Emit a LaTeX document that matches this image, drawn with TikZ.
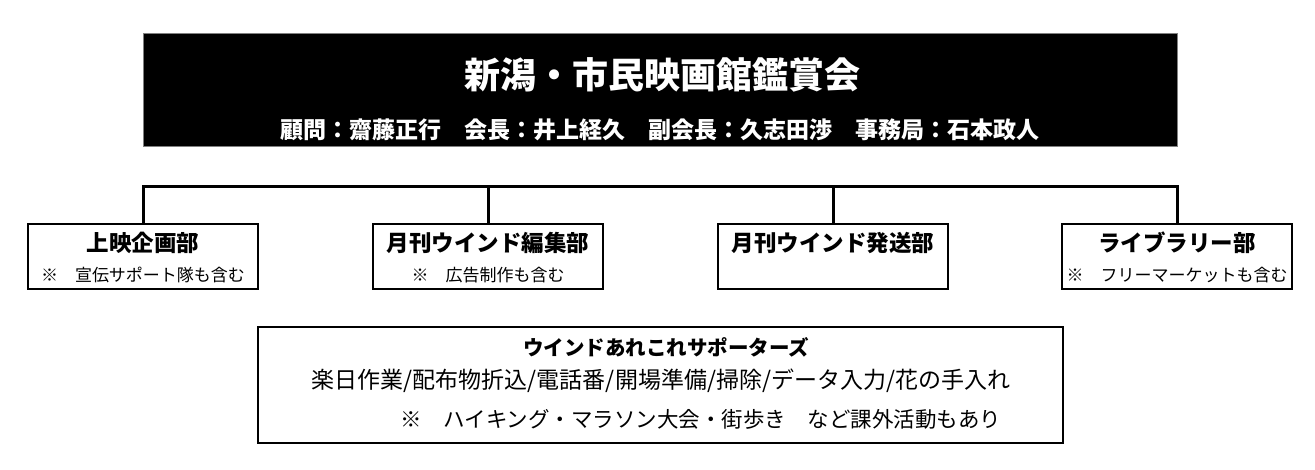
\documentclass[tikz,border=0pt]{standalone}
\usepackage{fontspec}
\setmainfont{Noto Sans CJK JP}
\usepackage{tikz}
\usetikzlibrary{positioning}

\begin{document}
\begin{tikzpicture}[x=1pt, y=-1pt,
			box/.style={draw, rectangle, fill=none, inner sep=0pt},
			header/.style={box, draw=gray, fill=black, minimum width=1034pt, minimum height=113pt},
			headTitle/.style={text=white, inner sep=0pt, font=\bfseries\fontsize{36}{36}\selectfont},
			headMembers/.style={text=white, inner sep=0pt, font=\bfseries\fontsize{23}{23}\selectfont},
			deptBox/.style={box, line width=2pt, minimum width=230pt, minimum height=65pt},
			deptTitle/.style={inner sep=0pt, font=\bfseries\fontsize{22.5}{22.5}\selectfont},
			deptNote/.style={inner sep=0pt, font=\fontsize{17}{17}\selectfont},
			supBox/.style={box, line width=2pt, minimum width=805pt, minimum height=116pt},
			supTitle/.style={inner sep=0pt, font=\bfseries\fontsize{20.5}{20.5}\selectfont},
			supText/.style={inner sep=0pt, font=\fontsize{23}{23}\selectfont},
			bus/.style={line width=3pt, line join=miter},
			]
			\useasboundingbox (0,0) rectangle (1315,469);
			
			% header
			\draw node[header] (head) at (660,89.5) {};
			\draw node[headTitle] (headText) at (662,75) {新潟・市民映画館鑑賞会};
			\draw node[headMembers] (memberText) at (660,130) {顧問：齋藤正行　会長：井上経久　副会長：久志田渉　事務局：石本政人};
			
			% departments
			\foreach \x/\px/\name/\note in {1/143/上映企画部/※　宣伝サポート隊も含む,
				2/488/月刊ウインド編集部/※　広告制作も含む,
				3/833/月刊ウインド発送部/{},
				4/1177/ライブラリー部/※　フリーマーケットも含む}
			{
				\draw node[deptBox] (dept\x) at (\px,256.5) {};
				\draw node[deptTitle] (deptTitle\x) [below=9pt of dept\x.north] {\name};
				\draw node[deptNote] (deptNote\x) [above=7pt of dept\x.south] {\note};
				\coordinate (bus\x) at (\px,186);
			}
			
			% supporters
			\draw node[supBox] (sup) at (660.5,385) {};
			\draw node[supTitle] (supTitle) at (666,347) {ウインドあれこれサポーターズ};
			\draw node[supText] (supWork) at (661,381) {楽日作業/配布物折込/電話番/開場準備/掃除/データ入力/花の手入れ};
			\draw node[supText, font=\fontsize{21.5}{21.5}\selectfont] (supExtra) at (701,419) {※　ハイキング・マラソン大会・街歩き　など課外活動もあり};
			
			% Lines
			\draw [bus] (dept1.north) -- (bus1) -- (bus4) -- (dept4.north);
			\foreach \x in {2,3}
			\draw [bus] (bus\x) -- (dept\x.north);
			
		\end{tikzpicture}
\end{document}
